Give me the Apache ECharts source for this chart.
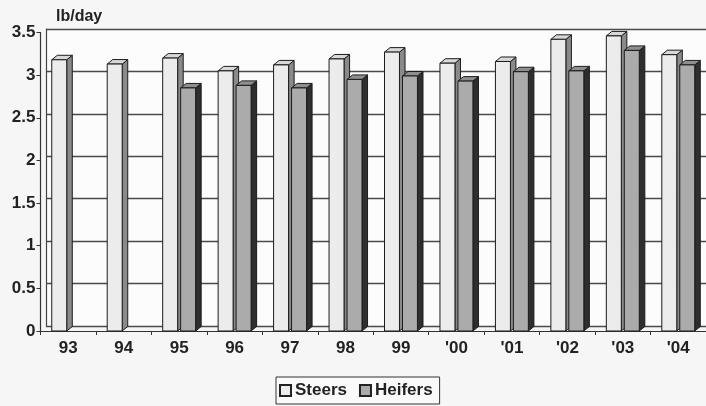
<!DOCTYPE html>
<html>
<head>
<meta charset="utf-8">
<script src="https://cdn.jsdelivr.net/npm/echarts@6/dist/echarts.min.js"></script>
<style>
  html, body { margin: 0; padding: 0; background: #f6f6f6; }
  #chart { width: 706px; height: 406px; }
</style>
</head>
<body>
<div id="chart"></div>
<script>
// Average daily gain by year, lb/day
const years = ['93', '94', '95', '96', '97', '98', '99', "'00", "'01", "'02", "'03", "'04"];
const steers = [3.18, 3.13, 3.20, 3.05, 3.12, 3.19, 3.27, 3.14, 3.16, 3.42, 3.46, 3.24];
const heifers = [null, null, 2.85, 2.88, 2.85, 2.95, 2.99, 2.93, 3.04, 3.05, 3.29, 3.12];
const yTicks = { min: 0, max: 3.5, interval: 0.5 };

const FONT = 'Liberation Sans, Arial, sans-serif';

// Faces of a pseudo-3D column: front, top and right side
const faceStyles = [
  { front: '#ececec', top: '#d8d8d8', side: '#8a8a8a' },   // Steers
  { front: '#ababab', top: '#8e8e8e', side: '#2e2e2e' }    // Heifers
];

function columnRenderer(slot) {
  return function (params, api) {
    const v = api.value(1);
    if (v == null || isNaN(v)) return;
    const top = api.coord([api.value(0), v]);
    const base = api.coord([api.value(0), 0]);
    const band = api.size([1, 0])[0];
    const w = band * 0.27;
    const gap = band * 0.054;
    const dx = band * 0.1;
    const dy = -4.5;
    const x0 = slot === 0 ? top[0] - gap / 2 - w : top[0] + gap / 2;
    const yT = top[1], yB = base[1];
    const st = faceStyles[slot];
    const stroke = { stroke: '#1c1c1c', lineWidth: 1 };
    return {
      type: 'group',
      children: [
        {
          type: 'polygon',
          shape: { points: [[x0 + w, yT], [x0 + w + dx, yT + dy], [x0 + w + dx, yB + dy], [x0 + w, yB]] },
          style: Object.assign({ fill: st.side }, stroke)
        },
        {
          type: 'polygon',
          shape: { points: [[x0, yT], [x0 + w, yT], [x0 + w + dx, yT + dy], [x0 + dx, yT + dy]] },
          style: Object.assign({ fill: st.top }, stroke)
        },
        {
          type: 'rect',
          shape: { x: x0, y: yT, width: w, height: yB - yT },
          style: Object.assign({ fill: st.front }, stroke)
        }
      ]
    };
  };
}

const chart = echarts.init(document.getElementById('chart'), null, { renderer: 'canvas' });

chart.setOption({
  backgroundColor: '#f6f6f6',
  animation: false,
  title: {
    text: 'lb/day',
    left: 51,
    top: 4,
    textStyle: { fontFamily: FONT, fontSize: 16, fontWeight: 'bold', color: '#222' }
  },
  legend: {
    data: ['Steers', 'Heifers'],
    left: 276,
    top: 377,
    orient: 'horizontal',
    itemWidth: 11,
    itemHeight: 11,
    itemGap: 12,
    padding: [5, 7, 5, 3],
    borderColor: '#333',
    borderWidth: 1,
    backgroundColor: '#fafafa',
    icon: 'rect',
    textStyle: { fontFamily: FONT, fontSize: 17, fontWeight: 'bold', color: '#222', padding: [0, 0, 0, -1] }
  },
  grid: [
    // front plane: axes, labels and columns
    { left: 40.5, top: 32.5, bottom: 75, width: 667, containLabel: false },
    // back wall: gridlines
    { left: 46, top: 29, bottom: 80, width: 667, show: true, backgroundColor: '#fcfcfc', borderWidth: 0 }
  ],
  xAxis: [
    {
      type: 'category',
      gridIndex: 0,
      data: years,
      axisLine: { lineStyle: { color: '#333', width: 1.2 } },
      axisTick: { show: true, length: 4, lineStyle: { color: '#333' } },
      axisLabel: { fontFamily: FONT, fontSize: 17, fontWeight: 'bold', color: '#222', margin: 9 }
    },
    {
      type: 'category',
      gridIndex: 1,
      data: years,
      axisLine: { show: false },
      axisTick: { show: false },
      axisLabel: { show: false }
    }
  ],
  yAxis: [
    {
      type: 'value',
      gridIndex: 0,
      min: yTicks.min,
      max: yTicks.max,
      interval: yTicks.interval,
      axisLine: { show: true, lineStyle: { color: '#333', width: 1.2 } },
      axisTick: { show: true, length: 4, lineStyle: { color: '#333' } },
      splitLine: { show: false },
      axisLabel: { fontFamily: FONT, fontSize: 17, fontWeight: 'bold', color: '#222', margin: 5 }
    },
    {
      type: 'value',
      gridIndex: 1,
      min: yTicks.min,
      max: yTicks.max,
      interval: yTicks.interval,
      axisLine: { show: true, lineStyle: { color: '#444', width: 1.2 } },
      axisTick: { show: false },
      axisLabel: { show: false },
      splitLine: { show: true, lineStyle: { color: '#4a4a4a', width: 1.4 } }
    }
  ],
  series: [
    {
      name: 'Steers',
      type: 'custom',
      xAxisIndex: 0,
      yAxisIndex: 0,
      renderItem: columnRenderer(0),
      encode: { x: 0, y: 1 },
      itemStyle: { color: '#ececec', borderColor: '#222', borderWidth: 1 },
      data: steers.map((v, i) => [i, v]),
      z: 3
    },
    {
      name: 'Heifers',
      type: 'custom',
      xAxisIndex: 0,
      yAxisIndex: 0,
      renderItem: columnRenderer(1),
      encode: { x: 0, y: 1 },
      itemStyle: { color: '#ababab', borderColor: '#222', borderWidth: 1 },
      data: heifers.map((v, i) => [i, v]),
      z: 4
    }
  ]
});
</script>
</body>
</html>
